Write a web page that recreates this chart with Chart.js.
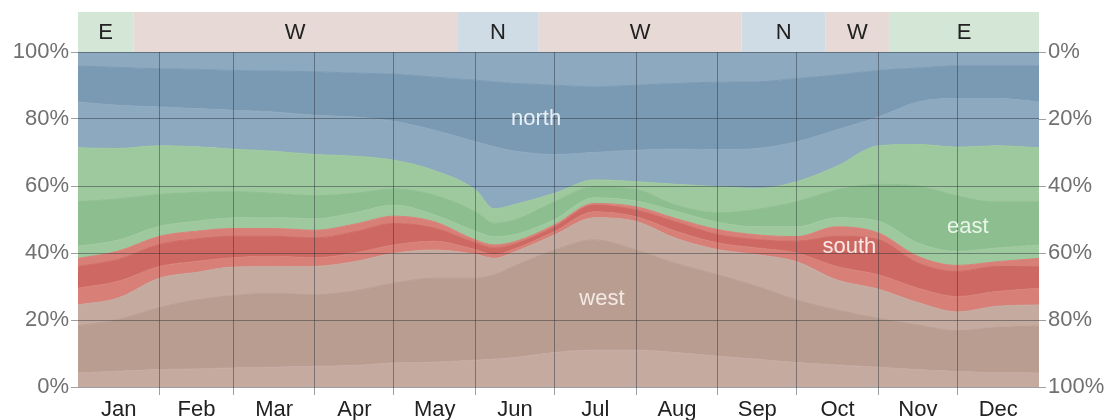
<!DOCTYPE html>
<html>
<head>
<meta charset="utf-8">
<script src="https://cdn.jsdelivr.net/npm/chart.js@4.4.1/dist/chart.umd.min.js"></script>
<style>
  body { margin: 0; background: #fff; }
  canvas { display: block; }
</style>
</head>
<body>
<canvas id="windChart" width="1114" height="420"></canvas>
<script>
const days = [0, 15, 31, 45, 59, 74, 90, 105, 120, 135, 151, 158, 166, 181, 196, 212, 227, 243, 258, 273, 288, 304, 319, 334, 349, 365];
const monthNames = ['Jan', 'Feb', 'Mar', 'Apr', 'May', 'Jun', 'Jul', 'Aug', 'Sep', 'Oct', 'Nov', 'Dec'];
const monthStarts = [0, 31, 59, 90, 120, 151, 181, 212, 243, 273, 304, 334, 365];

// % of hours, stacked bottom to top
const westNW  = [4.2, 4.7, 5.2, 5.4, 5.7, 5.9, 6.2, 6.4, 7.2, 7.4, 8.0, 8.3, 8.8, 10.3, 11.0, 11.0, 10.3, 9.2, 8.3, 7.3, 6.6, 5.9, 5.2, 4.6, 4.3, 4.2];
const west    = [14.1, 15.4, 18.5, 20.6, 21.6, 22.1, 21.3, 22.3, 23.8, 25.1, 24.5, 25.2, 27.4, 30.6, 32.9, 29.9, 26.6, 24.3, 21.7, 18.7, 16.4, 14.6, 13.3, 12.2, 13.5, 14.0];
const westSW  = [6.2, 6.4, 8.8, 8.2, 8.5, 7.9, 8.5, 8.7, 8.9, 8.4, 7.1, 4.9, 4.2, 4.5, 6.6, 8.5, 7.5, 7.5, 9.5, 11.4, 9.0, 8.7, 6.7, 5.6, 6.3, 6.3];
const southSW = [5.0, 5.0, 3.5, 3.3, 2.8, 3.1, 2.6, 2.6, 2.5, 2.6, 1.4, 1.1, 0.9, 1.0, 1.8, 1.4, 2.1, 2.0, 2.0, 2.6, 4.0, 4.3, 4.3, 4.6, 4.4, 5.0];
const south   = [6.5, 6.5, 6.6, 6.7, 6.4, 6.0, 5.9, 6.3, 6.4, 4.0, 2.0, 2.0, 1.4, 1.4, 2.0, 2.0, 2.8, 2.5, 2.5, 3.5, 9.0, 10.5, 7.5, 7.5, 7.5, 6.4];
const southSE = [2.4, 2.5, 2.4, 2.3, 2.3, 2.3, 2.3, 2.3, 2.2, 1.9, 0.9, 0.9, 0.7, 0.6, 0.5, 1.0, 1.0, 1.5, 1.4, 1.4, 2.8, 2.0, 2.0, 1.8, 1.4, 2.5];
const eastSE  = [3.6, 3.3, 3.0, 3.0, 3.2, 3.3, 3.4, 3.4, 3.3, 2.1, 2.6, 2.5, 2.1, 1.6, 1.7, 1.7, 2.2, 2.2, 2.4, 2.9, 2.7, 3.5, 4.0, 4.2, 4.1, 4.0];
const east    = [13.3, 12.3, 9.5, 8.6, 7.8, 7.2, 6.9, 5.8, 4.8, 5.8, 5.8, 4.0, 4.4, 5.3, 3.3, 3.5, 1.8, 2.8, 5.2, 7.5, 8.3, 11.0, 17.0, 16.5, 13.7, 12.9];
const eastNE  = [16.1, 15.1, 14.5, 13.6, 12.7, 12.6, 12.3, 11.1, 8.6, 7.4, 6.5, 4.3, 4.6, 2.5, 2.0, 2.3, 6.2, 7.8, 6.3, 6.0, 7.0, 11.5, 12.4, 14.6, 16.8, 16.1];
const northNE = [13.7, 12.9, 11.6, 11.4, 11.6, 11.7, 11.7, 11.7, 11.6, 12.0, 14.4, 18.5, 15.9, 11.6, 8.2, 9.4, 10.5, 11.0, 11.9, 11.9, 10.9, 8.6, 12.7, 14.5, 14.1, 13.7];
const north   = [10.7, 11.3, 11.4, 11.7, 11.9, 12.2, 13.0, 13.1, 14.1, 15.8, 18.4, 19.4, 20.2, 20.7, 19.6, 19.4, 19.6, 20.2, 19.9, 18.9, 16.4, 13.9, 10.1, 9.8, 9.8, 10.8];
const northNW = [4.2, 4.6, 5.0, 5.2, 5.5, 5.7, 5.9, 6.3, 6.6, 7.5, 8.4, 8.9, 9.4, 9.9, 10.4, 9.9, 9.4, 9.0, 8.9, 7.9, 6.9, 5.5, 4.8, 4.1, 4.1, 4.1];

// dominant direction strip above the plot
const dominantStart = [0, 21, 144, 175, 252, 284, 308];
const dominantLabel = ['E', 'W', 'N', 'W', 'N', 'W', 'E'];

const FONT = '"Liberation Sans", Arial, sans-serif';
const gridColor = 'rgba(40, 45, 50, 0.45)';

const bands = [
    [westNW, '#c5aaa0'], [west, '#b99d91'], [westSW, '#c5aaa0'],
    [southSW, '#d88078'], [south, '#cd6962'], [southSE, '#d88078'],
    [eastSE, '#9ec99e'], [east, '#8dbe8f'], [eastNE, '#9ec99e'],
    [northNE, '#8da9bf'], [north, '#7a9ab4'], [northNW, '#8da9bf']
];

const datasets = bands.map(([values, color], i) => ({
    data: values.map((v, j) => ({ x: days[j], y: v })),
    backgroundColor: color,
    borderColor: color,
    borderWidth: 1,
    pointRadius: 0,
    cubicInterpolationMode: 'monotone',
    fill: i === 0 ? 'origin' : '-1'
}));

// month boundaries get grid lines, month middles get labels
const xTicks = [];
monthNames.forEach((m, i) => {
    xTicks.push((monthStarts[i] + monthStarts[i + 1]) / 2);
    if (i < 11) xTicks.push(monthStarts[i + 1]);
});

const areaLabels = [
    { text: 'north', day: 174, pct: 80, color: '#e8eff5' },
    { text: 'west', day: 199, pct: 26.4, color: '#f3e9e5' },
    { text: 'south', day: 293, pct: 41.8, color: '#fae8e6' },
    { text: 'east', day: 338, pct: 47.8, color: '#e8f5e8' }
];

const dominantColors = { E: '#d4e7d6', W: '#e7d9d5', N: '#cfdce5' };

const stripPlugin = {
    id: 'strip',
    beforeDraw(chart) {
        const { ctx, chartArea, scales: { x } } = chart;
        ctx.save();
        dominantStart.forEach((s, i) => {
            const e = i + 1 < dominantStart.length ? dominantStart[i + 1] : 365;
            const x0 = x.getPixelForValue(s), x1 = x.getPixelForValue(e);
            ctx.fillStyle = dominantColors[dominantLabel[i]];
            ctx.fillRect(x0, 12, x1 - x0, chartArea.top - 12);
            ctx.fillStyle = '#222';
            ctx.font = '22px ' + FONT;
            ctx.textAlign = 'center';
            ctx.textBaseline = 'middle';
            ctx.fillText(dominantLabel[i], (x0 + x1) / 2, 33);
        });
        ctx.restore();
    },
    afterDraw(chart) {
        const { ctx, scales: { x, y } } = chart;
        ctx.save();
        ctx.font = '22px ' + FONT;
        ctx.textAlign = 'center';
        ctx.textBaseline = 'middle';
        areaLabels.forEach(l => {
            ctx.fillStyle = l.color;
            ctx.fillText(l.text, x.getPixelForValue(l.day), y.getPixelForValue(l.pct));
        });
        ctx.restore();
    }
};

new Chart(document.getElementById('windChart'), {
    type: 'line',
    data: { datasets },
    plugins: [stripPlugin],
    options: {
        responsive: false,
        animation: false,
        devicePixelRatio: 1,
        layout: { padding: { top: 52, left: 0, right: 0, bottom: 0 } },
        plugins: { legend: { display: false }, tooltip: { enabled: false } },
        scales: {
            x: {
                type: 'linear',
                min: 0,
                max: 365,
                afterBuildTicks: axis => { axis.ticks = xTicks.map(v => ({ value: v })); },
                afterFit: axis => { axis.height = 33; },
                border: { display: false },
                grid: {
                    z: 1,
                    color: c => c.index % 2 === 1 ? gridColor : 'rgba(0,0,0,0)',
                    tickLength: 8
                },
                ticks: {
                    autoSkip: false,
                    maxRotation: 0,
                    padding: 2,
                    color: '#222',
                    font: { family: FONT, size: 22 },
                    callback: (v, i) => i % 2 === 0 ? monthNames[i / 2] : ''
                }
            },
            y: {
                stacked: true,
                min: 0,
                max: 100,
                afterFit: axis => { axis.width = 78; },
                border: { display: false },
                grid: { z: 1, color: gridColor, tickLength: 7 },
                ticks: {
                    stepSize: 20,
                    padding: 2,
                    color: '#707070',
                    font: { family: FONT, size: 22 },
                    callback: v => v + '%'
                }
            },
            y2: {
                position: 'right',
                min: 0,
                max: 100,
                reverse: true,
                afterFit: axis => { axis.width = 75; },
                border: { display: false },
                grid: { drawOnChartArea: false, color: gridColor, tickLength: 7 },
                ticks: {
                    stepSize: 20,
                    padding: 2,
                    color: '#707070',
                    font: { family: FONT, size: 22 },
                    callback: v => v + '%'
                }
            }
        }
    }
});
</script>
</body>
</html>
